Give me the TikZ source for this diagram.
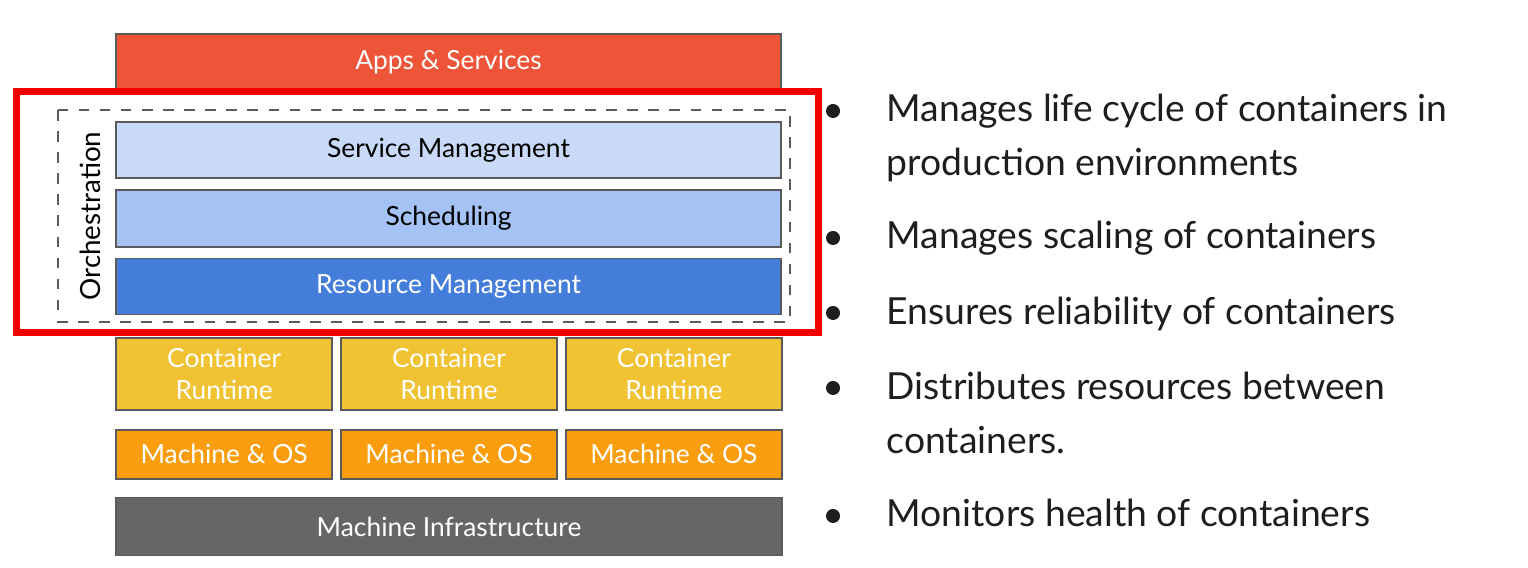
\documentclass[tikz,border=0pt]{standalone}
\usepackage{fontspec}
\setmainfont{Lato}
\usetikzlibrary{positioning}
\definecolor{appsred}{HTML}{EE5538}
\definecolor{focusred}{HTML}{F20000}
\definecolor{svcblue}{HTML}{C9DAF8}
\definecolor{schedblue}{HTML}{A4C2F4}
\definecolor{resblue}{HTML}{457DDA}
\definecolor{rtyellow}{HTML}{F1C232}
\definecolor{osorange}{HTML}{FA9E0F}
\definecolor{infragray}{HTML}{666666}
\definecolor{boxline}{HTML}{5A5A5A}
\definecolor{inktext}{HTML}{1E1E1E}
\tikzset{
node distance=0.1cm,
layer/.style={draw=boxline, line width=0.5pt, inner sep=0pt, minimum width=6.65cm,
  align=center, font=\fontsize{7.5}{9}\selectfont},
rt/.style={layer, fill=rtyellow, text=white, minimum width=2.16cm, minimum height=0.72cm},
os/.style={layer, fill=osorange, text=white, minimum width=2.16cm, minimum height=0.49cm},
orchbox/.style={draw=boxline, dashed, line width=0.45pt},
focus/.style={draw=focusred, line width=0.07cm},
dot/.style={circle, fill=inktext, inner sep=0pt, minimum size=0.14cm},
item/.style={inner sep=0pt, align=left, text=inktext, font=\fontsize{10.6}{15.4}\selectfont}
}
\begin{document}
\begin{tikzpicture}[x=0.01cm, y=-0.01cm]
\useasboundingbox (0,0) rectangle (1528,568);
\node[layer, fill=appsred, text=white, minimum height=0.56cm] (apps) at (448.5,62) {Apps \& Services};
\node[layer, fill=svcblue, minimum height=0.56cm] (svc) at (448.5,150) {Service Management};
\node[layer, fill=schedblue, minimum height=0.57cm, below=of svc] (sched) {Scheduling};
\node[layer, fill=resblue, text=white, minimum height=0.56cm, below=of sched] (res) {Resource Management};
\draw[orchbox] (58,110) rectangle (790,322);
\node[rotate=90, inner sep=0pt, font=\fontsize{7.9}{9}\selectfont] (orch) at (90,216) {Orchestration};
\draw[focus] (16.5,92) rectangle (818,333);

\node[rt] (rt2) at (449,374) {Container\\Runtime};
\node[rt, left=0.07cm of rt2] (rt1) {Container\\Runtime};
\node[rt, right=0.07cm of rt2] (rt3) {Container\\Runtime};
\node[os, below=0.18cm of rt1] (os1) {Machine \& OS};
\node[os, below=0.18cm of rt2] (os2) {Machine \& OS};
\node[os, below=0.18cm of rt3] (os3) {Machine \& OS};
\node[layer, fill=infragray, text=white, minimum height=0.58cm, below=0.17cm of os2] (infra) {Machine Infrastructure};

\foreach \i/\y in {1/111, 2/238, 3/313, 4/388, 5/516}
  \node[dot] (d\i) at (833,\y) {};
\node[item, anchor=base west] (m1) at (886,176) {Manages life cycle of containers in\\production environments};
\node[item, anchor=base west] (m2) at (886,249) {Manages scaling of containers};
\node[item, anchor=base west] (m3) at (886,325) {Ensures reliability of containers};
\node[item, anchor=base west] (m4) at (886,454) {Distributes resources between\\containers.};
\node[item, anchor=base west] (m5) at (886,527) {Monitors health of containers};
\end{tikzpicture}
\end{document}
